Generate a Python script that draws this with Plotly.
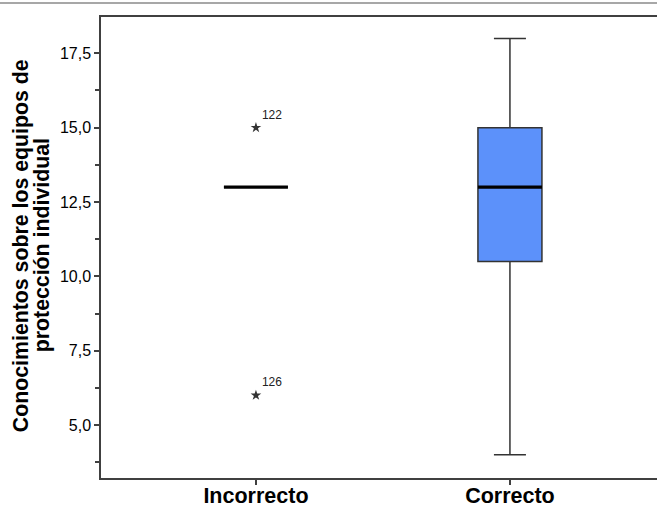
import plotly.graph_objects as go

# Summary statistics per group
categories = ["Incorrecto", "Correcto"]
q1 = [13.0, 10.5]
median = [13.0, 13.0]
q3 = [13.0, 15.0]
lower_fence = [13.0, 4.0]
upper_fence = [13.0, 18.0]

# Extreme values (case numbers shown as labels)
outlier_group = [0, 0]
outlier_value = [15.0, 6.0]
outlier_case = ["122", "126"]

y_ticks = [5.0, 7.5, 10.0, 12.5, 15.0, 17.5]
y_title_lines = ["Conocimientos sobre los equipos de", "protección individual"]

BOX_W = 0.252
FONT = "Arial, Liberation Sans, sans-serif"
AXIS_COL = "#404040"

fig = go.Figure()

positions = list(range(len(categories)))
fig.add_trace(go.Box(
    x=positions,
    q1=q1, median=median, q3=q3,
    lowerfence=lower_fence, upperfence=upper_fence,
    width=BOX_W,
    whiskerwidth=0.5,
    fillcolor="#5C91FA",
    line=dict(color="#333333", width=1.5),
    boxpoints=False,
    hoverinfo="skip",
    showlegend=False,
))

# Thick median bars
for i, m in enumerate(median):
    fig.add_trace(go.Scatter(
        x=[positions[i] - BOX_W / 2, positions[i] + BOX_W / 2],
        y=[m, m],
        mode="lines",
        line=dict(color="black", width=3.2),
        hoverinfo="skip",
        showlegend=False,
    ))

# Extreme values marked with stars
fig.add_trace(go.Scatter(
    x=[positions[g] for g in outlier_group],
    y=outlier_value,
    mode="markers+text",
    marker=dict(symbol="star", size=8, color="#333333"),
    text=outlier_case,
    textposition="top right",
    textfont=dict(family=FONT, size=12, color="#222222"),
    hoverinfo="skip",
    showlegend=False,
))

# Rotated two-line y-axis title
for x_paper, line in zip([-0.144, -0.106], y_title_lines):
    fig.add_annotation(
        x=x_paper, y=0.505, xref="paper", yref="paper",
        text="<b>" + line + "</b>", textangle=-90,
        showarrow=False, xanchor="center", yanchor="middle",
        font=dict(family=FONT, size=21.3, color="black"),
    )

# Thin page border along the top
fig.add_shape(type="line", xref="paper", yref="paper",
              x0=-0.2, x1=1.0, y0=1.0304, y1=1.0304,
              line=dict(color="#8a8a8a", width=1.5))

fig.update_layout(
    width=657, height=510,
    margin=dict(l=101, r=0, t=17, b=32),
    paper_bgcolor="white", plot_bgcolor="white",
    separators=",.",
    font=dict(family=FONT, color="black"),
)

fig.update_xaxes(
    range=[-0.610, 1.579],
    automargin=False,
    tickvals=positions, ticktext=["<b>" + c + "</b>" for c in categories],
    tickfont=dict(family=FONT, size=21.5, color="black"),
    ticks="outside", ticklen=5, tickcolor=AXIS_COL, tickwidth=1.5,
    ticklabelstandoff=-8,
    showline=True, linecolor=AXIS_COL, linewidth=1.5, mirror=True,
    showgrid=False, zeroline=False,
)

fig.update_yaxes(
    range=[3.22, 18.72],
    automargin=False,
    tickvals=y_ticks, tickformat=".1f",
    tickfont=dict(family=FONT, size=16, color="black"),
    ticks="outside", ticklen=5, tickcolor=AXIS_COL, tickwidth=1.5,
    minor=dict(ticks="outside", ticklen=4, dtick=1.25, tick0=0,
               tickcolor=AXIS_COL, tickwidth=1.5, showgrid=False),
    showline=True, linecolor=AXIS_COL, linewidth=1.5, mirror=False,
    showgrid=False, zeroline=False,
)

fig.write_html("out.html")
